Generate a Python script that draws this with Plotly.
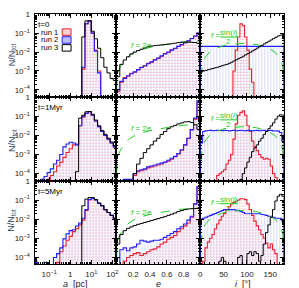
import plotly.graph_objects as go

W, H = 299, 288
FLOOR = 1e-7

# ---------------- bin grids (x categories) ----------------
A_EDGES_LOG = [round(-1.7 + 0.15 * k, 3) for k in range(27)]   # log10(a/pc)
E_EDGES = [round(0.04 * k, 3) for k in range(26)]              # eccentricity
I_EDGES = [5 * k for k in range(37)]                           # inclination [deg]

# ---------------- values: log10(N/Ntot) per bin, None = empty ----------------
# semi-major axis
A_T0_RUN1 = [None]*15 + [-2.9, -0.5, -0.35, -1.0, -1.9, -3.0] + [None]*5
A_T0_RUN2 = [None]*15 + [-2.8, -0.5, -0.35, -1.0, -1.95, -3.1] + [None]*5
A_T0_RUN3 = [None]*15 + [-1.2, -0.35, -0.35, -0.9, -1.3, -1.8, -2.3, -2.8, -3.1, -3.4, -3.5]

A_T1_RUN1 = [None]*4 + [-4.3, -4.1, -3.9, -3.6, -3.4, -3.15, -2.9, -2.7, -2.5, -2.45, -1.5,
                        -1.05, -0.85, -0.77, -0.95, -1.25, -1.55, -1.8, -2.0, -2.2, -2.4, -2.6]
A_T1_RUN2 = [None]*2 + [-4.3, -4.15, -3.95, -3.75, -3.5, -3.3, -3.0, -2.6, -2.45, -2.36, -2.4, -2.5,
                        -1.5, -1.0, -0.85, -0.77, -0.95, -1.25, -1.55, -1.8, -2.0, -2.2, -2.4, -2.6]
A_T1_RUN3 = [None]*13 + [-3.9, -1.1, -0.95, -0.77, -0.75, -0.9, -1.2, -1.5, -1.75, -1.95, -2.15, -2.35, -2.55]

A_T5_RUN1 = [-4.26, None, None, None, None, None, None, -4.26, -3.7, -3.4, -3.1, -2.9, -2.65, -2.5,
             -2.3, -2.05, -1.55, -1.0, -0.92, -1.0, -1.18, -1.3, -1.5, -1.65, -1.8, -1.95]
A_T5_RUN2 = [-4.26, None, None, -4.26, None, None, -4.0, -3.8, -3.5, -3.03, -2.77, -2.6, -2.55, -2.36,
             -2.2, -1.95, -1.5, -0.97, -0.92, -1.0, -1.18, -1.3, -1.5, -1.65, -1.8, -1.95]
A_T5_RUN3 = [None]*15 + [-1.3, -0.95, -0.87, -0.87, -0.97, -1.15, -1.3, -1.5, -1.65, -1.8, -1.95]

# eccentricity
E_T0_RUN1 = [-4.1, -3.6, -3.35, -3.28, -3.12, -3.07, -2.95, -2.8, -2.74, -2.6, -2.54, -2.4, -2.33,
             -2.22, -2.08, -2.02, -1.88, -1.82, -1.7, -1.62, -1.5, -1.42, -1.28, -1.16, -1.0]
E_T0_RUN2 = [-4.0, -3.55, -3.4, -3.25, -3.15, -3.05, -2.93, -2.82, -2.72, -2.62, -2.52, -2.42, -2.32,
             -2.2, -2.1, -2.0, -1.9, -1.8, -1.7, -1.6, -1.5, -1.4, -1.28, -1.15, -1.0]
E_T0_RUN3 = [-3.3, -2.65, -2.42, -2.25, -2.1, -2.0, -1.92, -1.85, -1.78, -1.72, -1.68, -1.66, -1.64,
             -1.62, -1.6, -1.58, -1.56, -1.53, -1.5, -1.48, -1.47, -1.47, -1.48, -1.5, -1.54]

E_T1_RUN1 = [None]*5 + [-4.1, -3.9, -3.85, -3.8, -3.7, -3.65, -3.6, -3.55, -3.5, -3.42, -3.35, -3.25,
                        -3.12, -2.97, -2.78, -2.5, -2.15, -1.7, -1.15, -0.25]
E_T1_RUN2 = [None, None, -4.3, -4.3, -4.3, -4.0, -3.85, -3.8, -3.75, -3.65, -3.6, -3.55, -3.5, -3.45,
             -3.4, -3.3, -3.2, -3.1, -2.95, -2.75, -2.5, -2.15, -1.7, -1.1, -0.2]
E_T1_RUN3 = [None]*5 + [-4.0, -3.5, -3.2, -2.9, -2.7, -2.5, -2.3, -2.15, -1.95, -1.8, -1.65, -1.55,
                        -1.48, -1.4, -1.35, -1.3, -1.28, -1.33, -1.45, -1.7]

E_T5_RUN1 = [None, None, -4.2, -4.0, -3.9, -3.8, -3.75, -3.9, -3.8, -3.7, -3.6, -3.55, -3.45, -3.3,
             -3.2, -3.05, -2.95, -2.85, -2.65, -2.5, -2.35, -2.2, -1.9, -1.2, -0.3]
E_T5_RUN2 = [None, -3.6, -3.5, -3.65, -3.5, -3.45, -3.3, -3.1, -3.15, -3.2, -3.15, -3.1, -3.1, -3.05,
             -2.95, -2.85, -2.75, -2.65, -2.5, -2.4, -2.25, -2.05, -1.85, -1.2, -0.3]
E_T5_RUN3 = [-3.3, -2.8, -2.6, -2.48, -2.4, -2.33, -2.27, -2.22, -2.17, -2.12, -2.07, -2.02, -1.97,
             -1.92, -1.87, -1.8, -1.74, -1.68, -1.6, -1.55, -1.5, -1.47, -1.45, -1.44, -1.44]

# inclination
I_T0_RUN1 = [None]*14 + [-3.0, -1.9, -1.2, -0.5, -0.6, -1.2, -1.9, -2.9, -3.6] + [None]*13
I_T0_RUN2 = [-1.7, -1.7, -1.7, -1.7, -1.7, -1.7, -1.7, -1.7, -1.7, -1.7, -1.7, -1.7,
             -1.7, -1.7, -1.7, -1.7, -1.7, -1.7, -1.7, -1.7, -1.7, -1.7, -1.7, -1.7,
             -1.7, -1.7, -1.7, -1.7, -1.7, -1.7, -1.7, -1.7, -1.7, -1.7, -1.7, -1.7]
I_T0_RUN3 = [-3.05, -3.0, -2.97, -2.93, -2.9, -2.87, -2.83, -2.8, -2.76, -2.72, -2.68, -2.65,
             -2.6, -2.54, -2.47, -2.41, -2.35, -2.29, -2.22, -2.15, -2.08, -2.01, -1.94, -1.87,
             -1.79, -1.72, -1.65, -1.57, -1.5, -1.43, -1.36, -1.29, -1.22, -1.15, -1.11, -1.12]

I_T1_RUN1 = [None]*7 + [-4.1, -4.0, -3.9, -3.8, -3.5, -3.3, -3.0, -2.2, -1.4, -0.95, -0.8, -0.72,
                        -0.95, -1.5, -1.8, -2.3, -2.6, -2.8, -3.0, -3.15, -3.25, -3.2, -3.25, -3.6,
                        -4.0, -4.2] + [None]*3
I_T1_RUN2 = [-2.4, -1.8, -1.76, -1.75, -1.74, -1.76, -1.75, -1.73, -1.75, -1.76, -1.74, -1.75,
             -1.77, -1.75, -1.74, -1.76, -1.75, -1.73, -1.75, -1.76, -1.74, -1.75, -1.77, -1.75,
             -1.74, -1.76, -1.75, -1.74, -1.76, -1.75, -1.74, -1.77, -1.76, -1.78, -1.85, -2.3]
I_T1_RUN3 = [None]*17 + [-4.3, -4.0, -3.7, -3.4, -3.15, -2.85, -2.65, -2.5, -2.3, -2.15, -1.95,
                         -1.8, -1.65, -1.5, -1.35, -1.15, -1.0, -0.92, -0.95]

I_T5_RUN1 = [None, -4.2, -3.5, -3.2, -3.0, -2.8, -2.5, -2.25, -2.05, -1.85, -1.7, -1.5, -1.35,
             -1.2, -1.12, -1.06, -1.0, -0.93, -0.93, -0.98, -1.2, -1.5, -1.8, -2.1, -2.35, -2.55,
             -2.8, -3.0, -3.25, -3.5, -3.3, -3.6, -3.8, None, None, None]
I_T5_RUN2 = [-2.0, -1.95, -1.9, -1.85, -1.8, -1.75, -1.7, -1.65, -1.6, -1.55, -1.5, -1.5,
             -1.48, -1.48, -1.5, -1.52, -1.55, -1.6, -1.65, -1.7, -1.7, -1.7, -1.72, -1.72,
             -1.72, -1.72, -1.75, -1.78, -1.8, -1.85, -1.85, -1.9, -1.95, -1.95, -1.95, -2.1]
I_T5_RUN3 = [None]*8 + [-4.2, -4.0, -4.2] + [None]*5 + [-4.0, -3.9] + [None]*2 + \
            [-3.8, -3.7, -3.9, -3.7, -3.8, -4.2, -3.9, -3.3, -2.7, -2.3, -1.9, -1.5, -1.05, -0.8, -0.7, -0.8]

# reference curves: f = 2e and f = sin(i)/2
GREEN_E_X = [0.003, 0.01, 0.03, 0.05, 0.1, 0.15, 0.2, 0.3, 0.4, 0.5, 0.6, 0.7, 0.8, 0.9, 1.0]
GREEN_E_Y = [-4.0, -3.3, -2.95, -2.75, -2.42, -2.2, -2.05, -1.87, -1.75, -1.66, -1.58, -1.52, -1.47, -1.43, -1.4]
GREEN_I_X = [1, 3, 5, 10, 20, 30, 45, 60, 75, 90, 105, 120, 135, 150, 160, 170, 175, 177, 179]
GREEN_I_Y = [-3.3, -2.8, -2.6, -2.3, -2.0, -1.85, -1.7, -1.6, -1.56, -1.55, -1.56, -1.6, -1.7,
             -1.85, -2.0, -2.3, -2.6, -2.8, -3.3]

ROW_LABELS = ["t=0", "t=1Myr", "t=5Myr"]
RUN_LABELS = ["run 1", "run 2", "run 3"]

DATA = [
    [(A_T0_RUN1, A_T0_RUN2, A_T0_RUN3), (E_T0_RUN1, E_T0_RUN2, E_T0_RUN3), (I_T0_RUN1, I_T0_RUN2, I_T0_RUN3)],
    [(A_T1_RUN1, A_T1_RUN2, A_T1_RUN3), (E_T1_RUN1, E_T1_RUN2, E_T1_RUN3), (I_T1_RUN1, I_T1_RUN2, I_T1_RUN3)],
    [(A_T5_RUN1, A_T5_RUN2, A_T5_RUN3), (E_T5_RUN1, E_T5_RUN2, E_T5_RUN3), (I_T5_RUN1, I_T5_RUN2, I_T5_RUN3)],
]

# ---------------- layout geometry (pixels) ----------------
COL_PX = [(33, 116), (116, 201), (201, 286)]
ROW_PX = [(10, 94), (94, 179), (179, 264)]

RED = "#ee2030"
BLUE = "#2020ff"
GREEN = "#22cc22"
FONT = "Liberation Sans"


def px(x):
    return x / W


def py(y):
    return 1 - y / H


def step(edges, vals):
    xs, ys = [edges[0]], [FLOOR]
    for i, v in enumerate(vals):
        yv = FLOOR if v is None else 10 ** v
        xs += [edges[i], edges[i + 1]]
        ys += [yv, yv]
    xs.append(edges[-1])
    ys.append(FLOOR)
    return xs, ys


col_edges = [[10 ** e for e in A_EDGES_LOG], E_EDGES, I_EDGES]

fig = go.Figure()
layout = {}

for r in range(3):
    for c in range(3):
        n = r * 3 + c + 1
        xa = "x" if n == 1 else f"x{n}"
        ya = "y" if n == 1 else f"y{n}"
        edges = col_edges[c]
        run1, run2, run3 = DATA[r][c]
        x1, y1 = step(edges, run1)
        x2, y2 = step(edges, run2)
        x3, y3 = step(edges, run3)
        # fills
        fig.add_trace(go.Scatter(x=x2, y=y2, xaxis=xa, yaxis=ya, mode="none", fill="toself",
                                 fillcolor="rgba(0,0,0,0)",
                                 fillpattern=dict(shape="|", fgcolor="rgba(70,70,255,0.42)",
                                                  bgcolor="rgba(0,0,0,0)", size=3, solidity=0.35),
                                 hoverinfo="skip", showlegend=False))
        fig.add_trace(go.Scatter(x=x1, y=y1, xaxis=xa, yaxis=ya, mode="none", fill="toself",
                                 fillcolor="rgba(0,0,0,0)",
                                 fillpattern=dict(shape="-", fgcolor="rgba(255,60,60,0.42)",
                                                  bgcolor="rgba(0,0,0,0)", size=3, solidity=0.35),
                                 hoverinfo="skip", showlegend=False))
        # outlines
        fig.add_trace(go.Scatter(x=x1, y=y1, xaxis=xa, yaxis=ya, mode="lines",
                                 line=dict(color=RED, width=1.1), hoverinfo="skip", showlegend=False))
        fig.add_trace(go.Scatter(x=x2, y=y2, xaxis=xa, yaxis=ya, mode="lines",
                                 line=dict(color=BLUE, width=1.1), hoverinfo="skip", showlegend=False))
        if c == 1:
            fig.add_trace(go.Scatter(x=GREEN_E_X, y=[10 ** v for v in GREEN_E_Y], xaxis=xa, yaxis=ya,
                                     mode="lines", line=dict(color=GREEN, width=1, dash="dash"),
                                     hoverinfo="skip", showlegend=False))
        if c == 2:
            fig.add_trace(go.Scatter(x=GREEN_I_X, y=[10 ** v for v in GREEN_I_Y], xaxis=xa, yaxis=ya,
                                     mode="lines", line=dict(color=GREEN, width=1, dash="dash"),
                                     hoverinfo="skip", showlegend=False))
        fig.add_trace(go.Scatter(x=x3, y=y3, xaxis=xa, yaxis=ya, mode="lines",
                                 line=dict(color="black", width=1), hoverinfo="skip", showlegend=False))

        common = dict(showline=True, linecolor="black", linewidth=1, mirror="allticks",
                      ticks="inside", ticklen=4, tickcolor="black", tickwidth=1,
                      showgrid=False, zeroline=False,
                      tickfont=dict(family=FONT, size=8, color="#222"))
        x0p, x1p = COL_PX[c]
        y0p, y1p = ROW_PX[r]
        if c == 0:
            xd = dict(type="log", range=[-1.7, 2.2],
                      tickmode="array", tickvals=[0.1, 1, 10, 100],
                      ticktext=["10<sup>\u22121</sup>", "1", "10<sup>1</sup>", "10<sup>2</sup>"],
                      minor=dict(ticks="inside", ticklen=2, tickcolor="black", tickmode="array",
                                 tickvals=[k * 10 ** d for d in range(-2, 3) for k in range(2, 10)]))
        elif c == 1:
            xd = dict(type="linear", range=[0, 1], tickmode="array",
                      tickvals=[0, 0.2, 0.4, 0.6, 0.8, 1.0],
                      ticktext=["", "0.2", "0.4", "0.6", "0.8", ""],
                      minor=dict(ticks="inside", ticklen=2, tickcolor="black", dtick=0.05, tick0=0))
        else:
            xd = dict(type="linear", range=[0, 180], tickmode="array",
                      tickvals=[0, 50, 100, 150], ticktext=["0", "50", "100", "150"],
                      minor=dict(ticks="inside", ticklen=2, tickcolor="black", dtick=10, tick0=0))
        xd.update(common)
        xd.update(domain=[px(x0p), px(x1p)], anchor=ya, showticklabels=(r == 2),
                  ticklabelstandoff=2)
        yd = dict(type="log", range=[-4.36, 0.02], tickmode="array",
                  tickvals=[1e-4, 1e-3, 1e-2, 1e-1, 1],
                  ticktext=["10<sup>\u22124</sup>", "10<sup>\u22123</sup>", "10<sup>\u22122</sup>",
                            "10<sup>\u22121</sup>", "1"],
                  minor=dict(ticks="inside", ticklen=2, tickcolor="black", tickmode="array",
                             tickvals=[k * 10 ** d for d in range(-5, 1) for k in range(2, 10)]))
        yd.update(common)
        yd.update(domain=[py(y1p), py(y0p)], anchor=xa, showticklabels=(c == 0),
                  ticklabelstandoff=2)
        layout["xaxis" if n == 1 else f"xaxis{n}"] = xd
        layout["yaxis" if n == 1 else f"yaxis{n}"] = yd

annotations = []
shapes = []
txt = dict(family=FONT, size=8, color="black")
legtxt = dict(family=FONT, size=7.5, color="black")
gtxt = dict(family=FONT, size=8, color=GREEN)

for r in range(3):
    top = ROW_PX[r][0]
    # time label
    annotations.append(dict(x=px(35), y=py(top + 11), xref="paper", yref="paper", text=ROW_LABELS[r],
                            showarrow=False, xanchor="left", yanchor="middle", font=txt, borderpad=0))
    # y title
    yc = [51, 138, 219][r]
    annotations.append(dict(x=px(10), y=py(yc), xref="paper", yref="paper",
                            text="N/N<sub>tot</sub>", textangle=-90, showarrow=False,
                            xanchor="center", yanchor="middle", font=dict(family=FONT, size=9)))
    # f = 2e
    annotations.append(dict(x=px(141), y=py(top + 32), xref="paper", yref="paper",
                            text="<i>f</i> = 2<i>e</i>", showarrow=False,
                            xanchor="center", yanchor="middle", font=gtxt))
    # f = sin(i)/2
    annotations.append(dict(x=px(216), y=py(top + 22), xref="paper", yref="paper",
                            text="<i>f</i> =", showarrow=False, xanchor="center", yanchor="middle", font=gtxt))
    annotations.append(dict(x=px(230), y=py(top + 19), xref="paper", yref="paper",
                            text="sin(<i>i</i>)", showarrow=False, xanchor="center", yanchor="middle", font=gtxt))
    annotations.append(dict(x=px(230), y=py(top + 28), xref="paper", yref="paper",
                            text="2", showarrow=False, xanchor="center", yanchor="middle", font=gtxt))
    shapes.append(dict(type="line", xref="paper", yref="paper", x0=px(221), x1=px(239),
                       y0=py(top + 23.5), y1=py(top + 23.5), line=dict(color=GREEN, width=1)))

# legend
leg_y = [28.5, 36.5, 44.5]
box_style = [(RED, "rgba(255,120,120,0.35)"), (BLUE, "rgba(110,110,255,0.45)"), ("black", "white")]
for k in range(3):
    annotations.append(dict(x=px(57.5), y=py(leg_y[k]), xref="paper", yref="paper", text=RUN_LABELS[k],
                            showarrow=False, xanchor="right", yanchor="middle", font=legtxt,
                            borderpad=0))
    lc, fc = box_style[k]
    shapes.append(dict(type="rect", xref="paper", yref="paper", x0=px(61), x1=px(70),
                       y0=py(leg_y[k] + 3.3), y1=py(leg_y[k] - 3.3),
                       line=dict(color=lc, width=1), fillcolor=fc))

# x titles
xt = dict(family=FONT, size=9, color="#222")
annotations.append(dict(x=px(75), y=py(283.5), xref="paper", yref="paper", text="<i>a</i>  [pc]",
                        showarrow=False, xanchor="center", yanchor="middle", font=xt, borderpad=0))
annotations.append(dict(x=px(159), y=py(283.5), xref="paper", yref="paper", text="<i>e</i>",
                        showarrow=False, xanchor="center", yanchor="middle", font=xt, borderpad=0))
annotations.append(dict(x=px(244), y=py(283.5), xref="paper", yref="paper", text="<i>i</i>  [\u00b0]",
                        showarrow=False, xanchor="center", yanchor="middle", font=xt, borderpad=0))

fig.update_layout(width=W, height=H, margin=dict(l=0, r=0, t=0, b=0),
                  paper_bgcolor="white", plot_bgcolor="white",
                  showlegend=False, annotations=annotations, shapes=shapes, **layout)

fig.write_html("out.html", config={"displayModeBar": False, "staticPlot": True},
               post_script="document.body.style.margin='0px';document.body.style.overflow='hidden';")
